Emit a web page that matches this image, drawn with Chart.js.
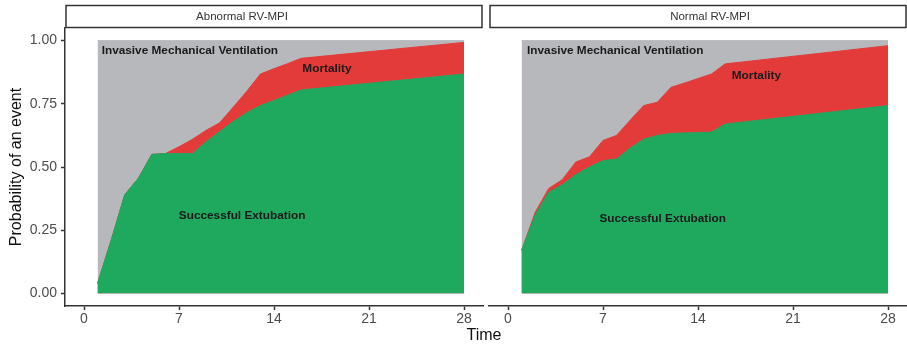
<!DOCTYPE html>
<html>
<head>
<meta charset="utf-8">
<script src="https://cdn.jsdelivr.net/npm/chart.js@4"></script>
<style>
  body { margin: 0; background: #fff; }
  .wrap { position: relative; width: 907px; height: 345px; }
  canvas { position: absolute; left: 0; top: 0; }
</style>
</head>
<body>
<div class="wrap">
  <canvas id="leftChart" width="907" height="345"></canvas>
  <canvas id="rightChart" width="907" height="345"></canvas>
</div>
<script>
// days since intubation
var days = [1, 2, 3, 4, 5, 6, 7, 8, 9, 10, 11, 12, 13, 14, 15, 16, 28];

// Abnormal RV-MPI
var abnExtubation = [0.04, 0.21, 0.39, 0.455, 0.55, 0.553, 0.553, 0.553, 0.60, 0.64, 0.68, 0.715, 0.743, 0.763, 0.784, 0.805, 0.868];
var abnMortality  = [0, 0, 0, 0, 0, 0, 0.027, 0.057, 0.045, 0.035, 0.057, 0.085, 0.125, 0.126, 0.125, 0.125, 0.125];

// Normal RV-MPI
var normExtubation = [0.17, 0.31, 0.40, 0.43, 0.47, 0.50, 0.525, 0.532, 0.575, 0.61, 0.625, 0.633, 0.635, 0.636, 0.638, 0.67, 0.743];
var normMortality  = [0, 0.01, 0.015, 0.02, 0.05, 0.04, 0.08, 0.093, 0.11, 0.133, 0.131, 0.182, 0.197, 0.214, 0.23, 0.238, 0.237];

// still ventilated = the rest up to 1
var ventDays = [1, 28];
var ventTop = [1, 1];

var xTicks = [0, 7, 14, 21, 28];
var yTicks = [0, 0.25, 0.5, 0.75, 1];

var panelTitles = ['Abnormal RV-MPI', 'Normal RV-MPI'];
var areaLabels = ['Invasive Mechanical Ventilation', 'Mortality', 'Successful Extubation'];
var abnLabelX = [7.8, 17.9, 11.65];
var abnLabelY = [0.96, 0.887, 0.307];
var normLabelX = [7.9, 18.3, 11.4];
var normLabelY = [0.96, 0.86, 0.297];

var GREEN = '#1fa95f';
var RED = '#e33b3a';
var GREY = '#b6b8bc';
var AXIS = '#333333';

function points(xs, ys) {
  return xs.map(function (x, i) { return {x: x, y: ys[i]}; });
}
function stackTop(a, b) {
  return a.map(function (v, i) { return +(v + b[i]).toFixed(3); });
}

var panelDecor = {
  id: 'panelDecor',
  afterDatasetsDraw: function (chart, args, opts) {
    var ctx = chart.ctx;
    var xs = chart.scales.x, ys = chart.scales.y;
    ctx.save();
    ctx.fillStyle = '#1a1a1a';
    ctx.font = 'bold 11.8px "Liberation Sans", Arial, sans-serif';
    ctx.textAlign = 'center';
    ctx.textBaseline = 'middle';
    areaLabels.forEach(function (t, i) {
      ctx.fillText(t, xs.getPixelForValue(opts.lx[i]), ys.getPixelForValue(opts.ly[i]));
    });
    ctx.restore();
  },
  afterDraw: function (chart, args, opts) {
    var ctx = chart.ctx;
    var a = chart.chartArea;
    ctx.save();
    // facet strip
    ctx.fillStyle = '#fff';
    ctx.strokeStyle = AXIS;
    ctx.lineWidth = 1.5;
    ctx.fillRect(a.left + 1, 5.5, a.right - a.left - 2, 22);
    ctx.strokeRect(a.left + 1, 5.5, a.right - a.left - 2, 22);
    ctx.fillStyle = '#333';
    ctx.font = '11.5px "Liberation Sans", Arial, sans-serif';
    ctx.textAlign = 'center';
    ctx.textBaseline = 'middle';
    ctx.fillText(opts.title, opts.titleX, 17);
    if (opts.xTitle) {
      ctx.fillStyle = '#111';
      ctx.font = '16px "Liberation Sans", Arial, sans-serif';
      ctx.fillText(opts.xTitle, 484, 336);
    }
    ctx.restore();
  }
};

function makeChart(id, ext, mort, isLeft) {
  var ctx = document.getElementById(id).getContext('2d');
  return new Chart(ctx, {
    type: 'line',
    data: {
      datasets: [{
        label: 'Successful Extubation',
        data: points(days, ext),
        backgroundColor: GREEN,
        borderColor: GREEN,
        borderWidth: 1,
        fill: 'origin'
      }, {
        label: 'Mortality',
        data: points(days, stackTop(ext, mort)),
        backgroundColor: RED,
        borderColor: RED,
        borderWidth: 1,
        fill: 'origin'
      }, {
        label: 'Invasive Mechanical Ventilation',
        data: points(ventDays, ventTop),
        backgroundColor: GREY,
        borderColor: GREY,
        borderWidth: 1,
        fill: 'origin'
      }]
    },
    options: {
      responsive: false,
      animation: false,
      elements: { point: { radius: 0 }, line: { tension: 0 } },
      layout: {
        padding: { left: isLeft ? 0 : 489, right: isLeft ? 424 : 0, top: 28, bottom: 0 }
      },
      plugins: {
        legend: { display: false },
        tooltip: { enabled: false },
        panelDecor: {
          title: isLeft ? panelTitles[0] : panelTitles[1],
          titleX: isLeft ? 242 : 710,
          lx: isLeft ? abnLabelX : normLabelX,
          ly: isLeft ? abnLabelY : normLabelY,
          xTitle: isLeft ? 'Time' : null
        }
      },
      scales: {
        x: {
          type: 'linear',
          min: -1.4,
          max: 29.4,
          afterBuildTicks: function (axis) {
            axis.ticks = xTicks.map(function (v) { return {value: v}; });
          },
          afterFit: function (axis) { axis.height = 39; },
          grid: { drawOnChartArea: false, drawTicks: true, tickLength: 4, tickColor: AXIS, tickWidth: 1.5 },
          border: { display: true, color: AXIS, width: 1.5 },
          ticks: {
            color: '#4d4d4d',
            padding: 1,
            maxRotation: 0,
            autoSkip: false,
            font: { size: 14, family: '"Liberation Sans", Arial, sans-serif' }
          }
        },
        y: {
          display: isLeft,
          min: -0.05,
          max: 1.05,
          afterBuildTicks: function (axis) {
            axis.ticks = yTicks.map(function (v) { return {value: v}; });
          },
          afterFit: function (axis) { axis.width = isLeft ? 65 : 0; },
          grid: { drawOnChartArea: false, drawTicks: true, tickLength: 4, tickColor: AXIS, tickWidth: 1.5 },
          border: { display: true, color: AXIS, width: 1.5 },
          ticks: {
            color: '#4d4d4d',
            padding: 4,
            font: { size: 14, family: '"Liberation Sans", Arial, sans-serif' },
            callback: function (v) { return v.toFixed(2); }
          },
          title: {
            display: true,
            text: 'Probability of an event',
            color: '#111',
            padding: { top: 7, bottom: 0 },
            font: { size: 16, family: '"Liberation Sans", Arial, sans-serif' }
          }
        }
      }
    },
    plugins: [panelDecor]
  });
}

makeChart('leftChart', abnExtubation, abnMortality, true);
makeChart('rightChart', normExtubation, normMortality, false);
</script>
</body>
</html>
